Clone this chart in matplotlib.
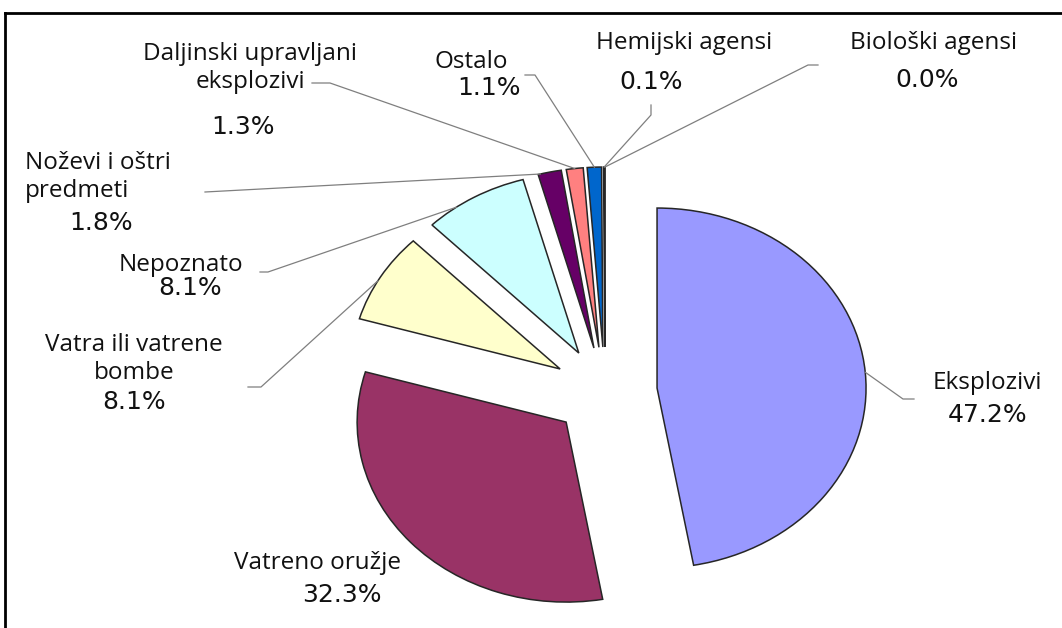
import matplotlib
matplotlib.use("Agg")
import matplotlib.pyplot as plt
from matplotlib.lines import Line2D
import numpy as np

# ---------------- data ----------------
categories = ["Eksplozivi", "Vatreno oružje", "Vatra ili vatrene bombe", "Nepoznato",
              "Noževi i oštri predmeti", "Daljinski upravljani eksplozivi", "Ostalo",
              "Hemijski agensi", "Biološki agensi"]
values = [47.2, 32.3, 8.1, 8.1, 1.8, 1.3, 1.1, 0.1, 0.0]
label_texts = ["Eksplozivi", "Vatreno oružje", "Vatra ili vatrene\nbombe", "Nepoznato",
               "Noževi i oštri\npredmeti", "Daljinski upravljani\neksplozivi", "Ostalo",
               "Hemijski agensi", "Biološki agensi"]
colors = ["#9999FF", "#993366", "#FFFFCC", "#CCFFFF", "#660066",
          "#FF8080", "#0066CC", "#CCCCFF", "#000080"]

# ---------------- layout ----------------
W, H = 1062, 628
fig = plt.figure(figsize=(W / 100, H / 100), dpi=100)
ax = fig.add_axes([0, 0, 1, 1])

cx, cy = 605, 392      # pie centre in pixels (y from top)
sx, sy = 209, 180      # radius in pixels (horizontal, vertical)

wedges, _ = ax.pie(values, colors=colors, startangle=90, counterclock=False,
                   explode=[0.25] * len(values), radius=1.0, normalize=True,
                   wedgeprops=dict(edgecolor="#262626", linewidth=1.1))
ax.set_aspect("auto")
ax.set_xlim(-cx / sx, (W - cx) / sx)
ax.set_ylim(-(H - cy) / sy, cy / sy)
ax.axis("off")


def fx(x):
    return x / W


def fy(y):
    return 1 - y / H


name_font = dict(family=["Open Sans", "DejaVu Sans"], fontsize=17.5, color="#111111")
pct_font = dict(family=["DejaVu Sans"], fontsize=18, color="#111111")

# name position (x, y, ha), pct position (x, y), leader elbow points, anchor fraction
layout = [
    dict(name=(987, 383, "center"), pct=(988, 415), leader=[(914, 399), (903, 399)], frac=0.5),
    dict(name=(317, 563, "center"), pct=(342, 595), leader=None, frac=0.5),
    dict(name=(134, 359, "center"), pct=(134, 402), leader=[(248, 387), (261, 387)], frac=0.55),
    dict(name=(181, 265, "center"), pct=(190, 288), leader=[(260, 272), (268, 272)], frac=0.7),
    dict(name=(25, 177, "left"), pct=(101, 223), leader=[(205, 192)], frac=0.9),
    dict(name=(250, 68, "center"), pct=(243, 127), leader=[(312, 83), (330, 83)], frac=0.5),
    dict(name=(471, 62, "center"), pct=(489, 88), leader=[(525, 75), (535, 75)], frac=0.5),
    dict(name=(684, 43, "center"), pct=(651, 82), leader=[(651, 105), (651, 115)], frac=0.5),
    dict(name=(934, 43, "center"), pct=(927, 80), leader=[(818, 65), (808, 65)], frac=0.5),
]

for w, txt, v, lay in zip(wedges, label_texts, values, layout):
    nx, ny, ha = lay["name"]
    fig.text(fx(nx), fy(ny), txt, ha=ha, va="center", linespacing=1.25, **name_font)
    px_, py_ = lay["pct"]
    fig.text(fx(px_), fy(py_), f"{v:.1f}%", ha="center", va="center", **pct_font)
    if lay["leader"]:
        t = np.deg2rad(w.theta1 + lay["frac"] * (w.theta2 - w.theta1))
        ax_pt = (w.center[0] + w.r * np.cos(t), w.center[1] + w.r * np.sin(t))
        dx, dy = ax.transData.transform(ax_pt)
        xs = [fx(p[0]) for p in lay["leader"]] + [dx / W]
        ys = [fy(p[1]) for p in lay["leader"]] + [dy / H]
        fig.add_artist(Line2D(xs, ys, transform=fig.transFigure, color="#7f7f7f",
                              linewidth=0.9))

# frame lines (left and top)
fig.add_artist(Line2D([fx(5), fx(5)], [fy(13), fy(H + 5)], transform=fig.transFigure,
                      color="black", linewidth=2.0))
fig.add_artist(Line2D([fx(5), fx(W + 5)], [fy(13), fy(13)], transform=fig.transFigure,
                      color="black", linewidth=2.0))

fig.savefig("out.png", dpi=100, facecolor="white")
